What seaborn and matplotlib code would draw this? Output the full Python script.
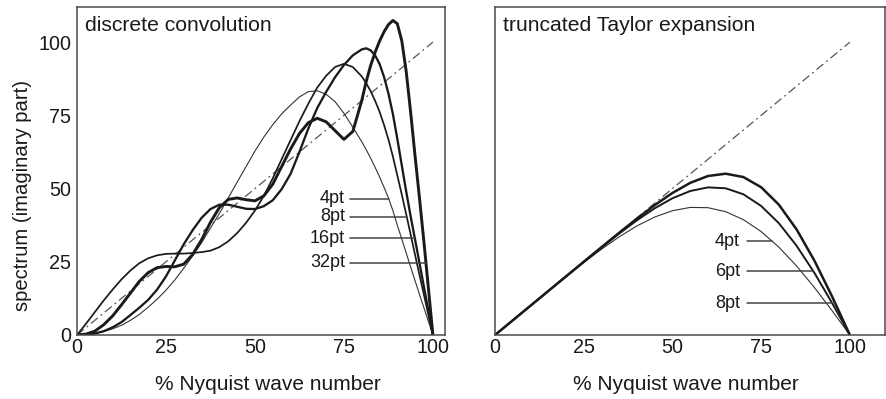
import numpy as np
import pandas as pd
import matplotlib
matplotlib.use("Agg")
import matplotlib.pyplot as plt
import seaborn as sns

# ---------------- data ----------------
x_conv = [0, 2.5, 5, 7.5, 10, 12.5, 15, 17.5, 20, 22.5, 25, 27.5, 30, 32.5, 35, 37.5,
          40, 42.5, 45, 47.5, 50, 52.5, 55, 57.5, 60, 62.5, 65, 67.5, 70, 72.5, 75, 77.5,
          80, 81.25, 82.5, 83.75, 85, 86.25, 87.5, 88.75, 90, 91.25, 92.5, 93.75, 95,
          96.25, 97.5, 98.75, 100]

conv_4pt = [0, 0.2, 0.6, 1.2, 2.1, 3.3, 5, 7, 9.5, 12.2, 15.3, 18.8, 22.8, 27, 31.5, 36.5,
            41.5, 46.8, 52.2, 57.5, 62.8, 67.6, 71.8, 75.5, 78.5, 81.3, 83.1, 83.4, 82.2, 79.7, 75.7, 71,
            66, 63.3, 60.4, 57.3, 54, 50.5, 46.8, 42.5, 37.5, 32.8, 28, 23.2, 18.5,
            13.8, 9.2, 4.6, 0]

conv_8pt = [0, 3.8, 7.8, 11.8, 15.5, 19, 22, 24.5, 26.2, 27.2, 27.7, 27.8, 27.8, 28, 28.3, 28.8,
            30, 32, 34.8, 38.3, 42.5, 47.5, 53.5, 60, 66.5, 73, 79, 84.5, 88.5, 91.5, 92.6, 91.5,
            88.3, 86, 83.3, 80, 76.3, 71.8, 66.8, 61, 54.5, 48, 41.2, 34.3, 27.3,
            20.4, 13.6, 6.8, 0]

conv_16pt = [0, 0.1, 0.5, 1.3, 2.6, 4.4, 6.8, 9.3, 12, 15.5, 20, 25.5, 31, 35.8, 40, 43,
             44.5, 44.5, 43.8, 43.1, 43, 44, 46, 49.8, 55, 62.5, 70.5, 77.5, 83, 88, 92.2, 95.5,
             97.5, 97.9, 97.2, 95.5, 92.6, 88.2, 82.5, 75.5, 67, 58, 49, 40.5, 32.5,
             24.5, 16.3, 8.2, 0]

conv_32pt = [0, 0.3, 1.3, 3.5, 6.5, 10.3, 14.3, 18.3, 21.3, 23, 23.4, 23.3, 24.2, 27.5, 32.5, 38.5,
             43.5, 46.3, 46.8, 46.2, 45.8, 47.5, 51.5, 57.5, 63.5, 68.8, 72.5, 74, 72.8, 69.8, 66.8, 69.5,
             80, 86.5, 92, 96.5, 100.3, 103.5, 106, 107.4, 106.3, 100.5, 90, 76, 61,
             46.5, 31.5, 15.8, 0]

x_taylor = [0, 5, 10, 15, 20, 25, 30, 35, 40, 45, 50, 55, 60, 65, 70, 75, 80, 85, 90, 95, 100]
taylor_4pt = [0, 5.0, 10.0, 14.98, 19.9, 24.71, 29.29, 33.52, 37.25, 40.28, 42.44, 43.56,
              43.48, 42.11, 39.38, 35.32, 29.99, 23.56, 16.23, 8.28, 0]
taylor_6pt = [0, 5.0, 10.0, 15.0, 19.99, 24.96, 29.87, 34.65, 39.17, 43.26, 46.69, 49.16,
              50.40, 50.10, 48.04, 44.06, 38.16, 30.45, 21.23, 10.90, 0]
taylor_8pt = [0, 5.0, 10.0, 15.0, 20.0, 25.0, 29.98, 34.92, 39.74, 44.34, 48.5, 51.94,
              54.28, 55.08, 53.93, 50.46, 44.49, 36.03, 25.4, 13.14, 0]

exact_x = [0, 100]
exact_y = [0, 100]

x_ticks = [0, 25, 50, 75, 100]
y_ticks = [0, 25, 50, 75, 100]

conv_names = ["4pt", "8pt", "16pt", "32pt"]
taylor_names = ["4pt", "6pt", "8pt"]

# ---------------- style ----------------
sns.set_style("white")
plt.rcParams['font.family'] = ['Liberation Sans', 'DejaVu Sans']

INK = "#1a1a1a"
SPINE = "#4a4a4a"
TICK_FS = 14.2
XLABEL_FS = 15
YLABEL_FS = 14.6
TITLE_FS = 15.2
TEXT_FS = 13

fig = plt.figure(figsize=(8.87, 3.99), dpi=100)
ax1 = fig.add_axes([77 / 887, 64 / 399, 368 / 887, 328 / 399])
ax2 = fig.add_axes([495 / 887, 64 / 399, 390 / 887, 328 / 399])


def draw(ax, x, y, color, lw, ls="-"):
    sns.lineplot(x=x, y=y, ax=ax, color=color, linewidth=lw, linestyle=ls,
                 estimator=None, sort=False, legend=False)


diag_style = (0, (7, 3, 1.5, 3))

# ---- left panel ----
draw(ax1, exact_x, exact_y, "#555555", 0.9, diag_style)
conv_series = [conv_4pt, conv_8pt, conv_16pt, conv_32pt]
conv_lw = [0.8, 1.25, 1.65, 2.1]
conv_col = ["#333333", INK, INK, INK]
for ys, lw, c in zip(conv_series, conv_lw, conv_col):
    draw(ax1, x_conv, ys, c, lw)

# ---- right panel ----
draw(ax2, exact_x, exact_y, "#555555", 0.9, diag_style)
taylor_series = [taylor_4pt, taylor_6pt, taylor_8pt]
taylor_lw = [0.8, 1.4, 1.8]
taylor_col = ["#333333", INK, INK]
for ys, lw, c in zip(taylor_series, taylor_lw, taylor_col):
    draw(ax2, x_taylor, ys, c, lw)


def desc_x(xs, ys, level):
    """x where the falling part of a curve reaches a given level"""
    xs = np.asarray(xs, float)
    ys = np.asarray(ys, float)
    i = int(np.argmax(ys))
    xd, yd = xs[i:], ys[i:]
    return float(np.interp(level, yd[::-1], xd[::-1]))


# label leaders, left
conv_label_y = [46.5, 40.3, 33.0, 24.6]
for name, ys, ly in zip(conv_names, conv_series, conv_label_y):
    ax1.text(75.3, ly, name, ha="right", va="center", fontsize=TEXT_FS, color=INK)
    ax1.plot([76.6, desc_x(x_conv, ys, ly)], [ly, ly], color="#444444", lw=1.1)

# label leaders, right
taylor_label_y = [32.0, 21.7, 10.9]
for name, ys, ly in zip(taylor_names, taylor_series, taylor_label_y):
    ax2.text(69.0, ly, name, ha="right", va="center", fontsize=TEXT_FS, color=INK)
    ax2.plot([70.9, desc_x(x_taylor, ys, ly)], [ly, ly], color="#444444", lw=1.1)

# axes cosmetics
for ax, xmax in ((ax1, 103.4), (ax2, 109.9)):
    ax.set_xlim(0, xmax)
    ax.set_ylim(0, 112)
    ax.set_xticks(x_ticks)
    ax.set_xticklabels([str(t) for t in x_ticks])
    ax.tick_params(axis="both", length=0, labelsize=TICK_FS, colors=INK)
    ax.tick_params(axis="x", pad=2)
    ax.tick_params(axis="y", pad=4)
    for sp in ax.spines.values():
        sp.set_visible(True)
        sp.set_color(SPINE)
        sp.set_linewidth(1.1)
    ax.set_xlabel("% Nyquist wave number", fontsize=XLABEL_FS, color=INK)
    ax.set_facecolor("white")

ax1.set_yticks(y_ticks)
ax1.set_yticklabels([str(t) for t in y_ticks])
ax2.set_yticks([])
ax1.set_ylabel("spectrum (imaginary part)", fontsize=YLABEL_FS, color=INK)
ax1.yaxis.set_label_coords(-0.122, 0.424)
ax1.xaxis.set_label_coords(0.52, -0.122)
ax2.xaxis.set_label_coords(0.49, -0.122)

ax1.text(0.022, 0.945, "discrete convolution", transform=ax1.transAxes,
         ha="left", va="center", fontsize=TITLE_FS, color=INK)
ax2.text(0.021, 0.945, "truncated Taylor expansion", transform=ax2.transAxes,
         ha="left", va="center", fontsize=TITLE_FS, color=INK)

fig.savefig("out.png", dpi=100, facecolor="white")
